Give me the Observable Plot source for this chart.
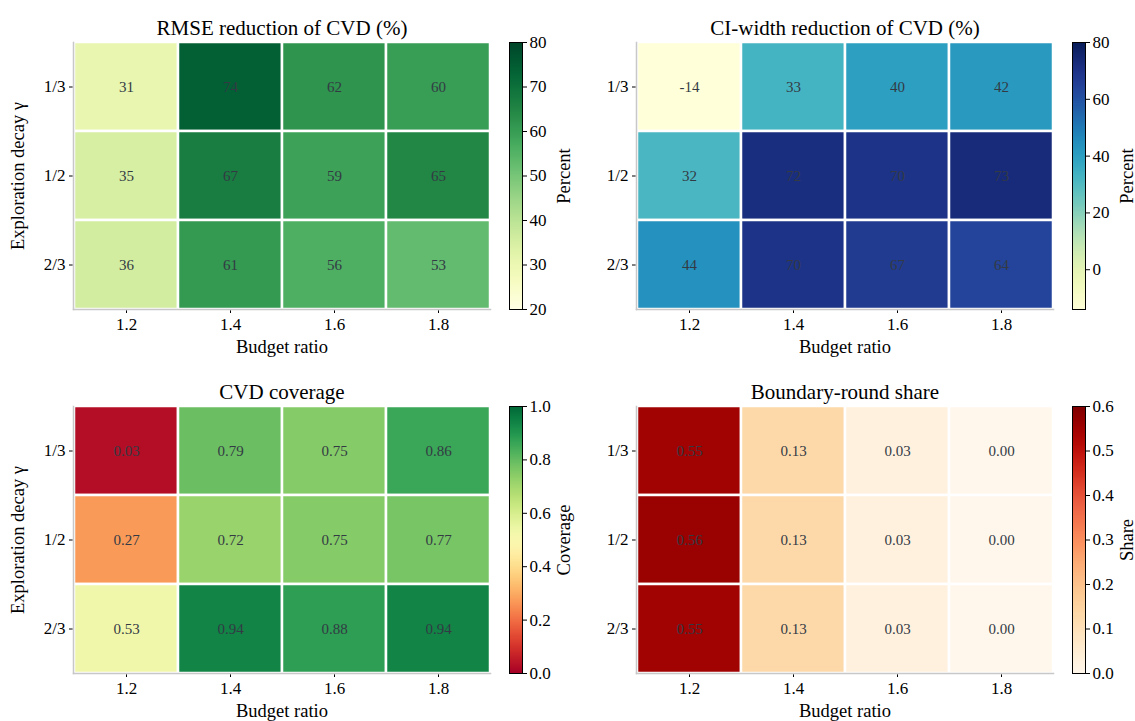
<!DOCTYPE html>
<html>
<head>
<meta charset="utf-8">
<script src="https://cdn.jsdelivr.net/npm/d3@7"></script>
<script src="https://cdn.jsdelivr.net/npm/@observablehq/plot@0.6"></script>
<style>
  html, body { margin: 0; padding: 0; background: #fff; }
  #root { position: relative; width: 1135px; height: 721px; overflow: hidden; background: #fff; }
  .box { position: absolute; width: 600px; }
  .box svg { overflow: visible; max-width: none !important; }
  .box svg g[aria-label$="axis label"] { font-size: 18.5px; }
</style>
</head>
<body>
<div id="root"></div>
<script>
// ---- Data ----
const budgets = ["1.2", "1.4", "1.6", "1.8"];
const gammas = ["1/3", "1/2", "2/3"];

const rmseReduction = [
  [31, 74, 62, 60],
  [35, 67, 59, 65],
  [36, 61, 56, 53]
];
const ciWidthReduction = [
  [-14, 33, 40, 42],
  [32, 72, 70, 73],
  [44, 70, 67, 64]
];
const cvdCoverage = [
  [0.03, 0.79, 0.75, 0.86],
  [0.27, 0.72, 0.75, 0.77],
  [0.53, 0.94, 0.88, 0.94]
];
const boundaryShare = [
  [0.55, 0.13, 0.03, 0.00],
  [0.56, 0.13, 0.03, 0.00],
  [0.55, 0.13, 0.03, 0.00]
];

const titles = ["RMSE reduction of CVD (%)", "CI-width reduction of CVD (%)", "CVD coverage", "Boundary-round share"];
const colorbarLabels = ["Percent", "Percent", "Coverage", "Share"];
const schemes = ["YlGn", "YlGnBu", "RdYlGn", "OrRd"];
const domains = [[20, 80], [-14, 80], [0, 1], [0, 0.6]];
const colorbarTicks = [[20, 30, 40, 50, 60, 70, 80], [0, 20, 40, 60, 80], [0, 0.2, 0.4, 0.6, 0.8, 1.0], [0, 0.1, 0.2, 0.3, 0.4, 0.5, 0.6]];
const xLabel = "Budget ratio";
const yLabel = "Exploration decay γ";

// ---- Layout ----
const FONT = "'Liberation Serif', 'DejaVu Serif', serif";
const root = document.getElementById("root");
const matrices = [rmseReduction, ciWidthReduction, cvdCoverage, boundaryShare];
const cellFormats = [v => String(v), v => String(v), d3.format(".2f"), d3.format(".2f")];
const tickFormats = [d3.format("d"), d3.format("d"), d3.format(".1f"), d3.format(".1f")];
const origins = [[0, 0], [563, 0], [0, 364], [563, 364]];

function place(node, left, top) {
  const div = document.createElement("div");
  div.className = "box";
  div.style.left = left + "px";
  div.style.top = top + "px";
  div.appendChild(node);
  root.appendChild(div);
}

matrices.forEach((m, k) => {
  const data = [];
  gammas.forEach((g, i) => budgets.forEach((b, j) => data.push({budget: b, gamma: g, value: m[i][j]})));
  const [ox, oy] = origins[k];
  const showY = k % 2 === 0;
  const color = {type: "linear", scheme: schemes[k], domain: domains[k]};

  const heat = Plot.plot({
    width: 500, height: 360,
    marginLeft: 73, marginRight: 10, marginTop: 42, marginBottom: 51,
    style: {fontFamily: FONT, fontSize: "17px", color: "#000", background: "transparent", overflow: "visible"},
    x: {type: "band", domain: budgets, padding: 0, label: xLabel, labelAnchor: "center", labelOffset: 43, tickSize: 4, tickPadding: 4},
    y: {type: "band", domain: gammas, padding: 0, label: showY ? yLabel : null, labelAnchor: "center", labelOffset: 63, tickSize: 4, tickPadding: 4},
    color,
    marks: [
      Plot.cell(data, {x: "budget", y: "gamma", fill: "value", stroke: "white", strokeWidth: 2.5}),
      Plot.text(data, {x: "budget", y: "gamma", text: d => cellFormats[k](d.value), fill: "#333a44", fontSize: 15}),
      Plot.frame({anchor: "left", stroke: "#c8c8c8", strokeWidth: 1.5}),
      Plot.frame({anchor: "bottom", stroke: "#c8c8c8", strokeWidth: 1.5}),
      Plot.text([titles[k]], {frameAnchor: "top", dy: -22, text: d => d, fontSize: 21, fill: "#000"})
    ]
  });
  place(heat, ox, oy);

  const bar = Plot.plot({
    width: 80, height: 360,
    marginLeft: 9, marginRight: 58, marginTop: 42, marginBottom: 51,
    style: {fontFamily: FONT, fontSize: "17px", color: "#000", background: "transparent", overflow: "visible"},
    x: {domain: [0, 1], axis: null},
    y: {domain: domains[k], axis: "right", ticks: colorbarTicks[k], tickFormat: tickFormats[k], label: colorbarLabels[k], labelArrow: "none", labelAnchor: "center", labelOffset: 47, tickSize: 4, tickPadding: 3},
    color,
    marks: [
      Plot.raster({x1: 0, x2: 1, y1: domains[k][0], y2: domains[k][1], width: 1, height: 256, fill: (x, y) => y, imageRendering: "auto"}),
      Plot.frame({stroke: "#000", strokeWidth: 1})
    ]
  });
  place(bar, ox + 500, oy);
});
</script>
</body>
</html>
